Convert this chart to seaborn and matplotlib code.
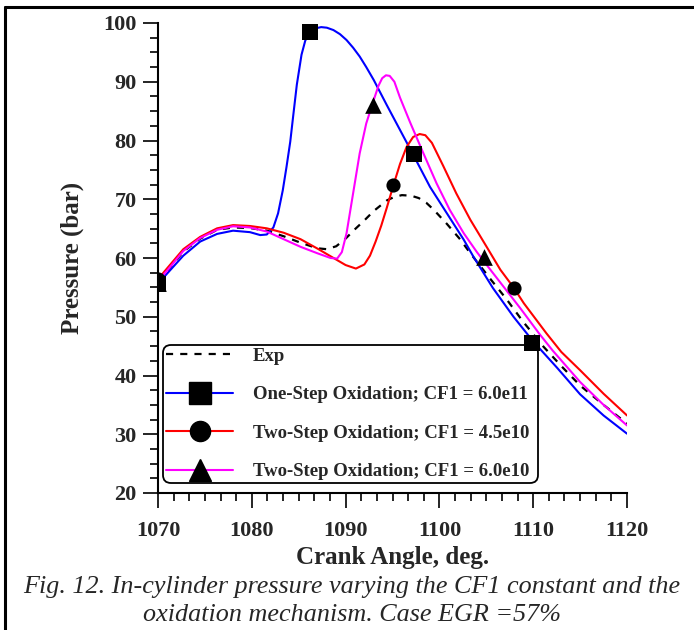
import numpy as np
import pandas as pd
import matplotlib
matplotlib.use("Agg")
import matplotlib.pyplot as plt
from matplotlib.lines import Line2D
from matplotlib.ticker import MultipleLocator
import seaborn as sns

# ---- pressure traces (crank angle in deg, pressure in bar) ----
exp_angle = [1070.0, 1071.0, 1072.7, 1074.5, 1076.3, 1078.0, 1079.8, 1081.6, 1083.4,
             1085.2, 1087.0, 1088.0, 1089.0, 1090.0, 1091.0, 1092.0, 1093.0, 1094.4,
             1095.2, 1096.0, 1097.0, 1097.8, 1098.6, 1099.4, 1100.8, 1102.2, 1103.3,
             1105.4, 1107.2, 1108.9, 1111.1, 1113.0, 1115.0, 1117.5, 1120.0]
exp_p = [56.0, 57.8, 61.1, 63.3, 64.8, 65.2, 65.1, 64.65, 63.7,
         62.6, 61.65, 61.5, 62.0, 63.3, 64.9, 66.4, 68.0, 69.8,
         70.4, 70.7, 70.6, 70.2, 69.4, 68.2, 65.8, 63.2, 60.8,
         56.5, 52.9, 49.2, 44.9, 41.6, 38.3, 35.0, 31.8]

one_step_angle = [1070.0, 1071.0, 1072.7, 1074.5, 1076.3, 1078.0, 1079.8, 1080.9, 1081.6,
                  1082.3, 1082.8, 1083.3, 1083.7, 1084.1, 1084.4, 1084.8, 1085.3, 1085.7,
                  1086.2, 1086.8, 1087.4, 1088.0, 1088.7, 1089.4, 1090.1, 1090.8, 1091.5,
                  1092.2, 1093.0, 1094.4, 1095.8, 1097.2, 1099.0, 1100.8, 1102.6, 1103.6,
                  1105.7, 1107.9, 1110.0, 1112.5, 1115.0, 1117.5, 1120.0]
one_step_p = [55.6, 57.4, 60.4, 62.8, 64.1, 64.65, 64.4, 63.9, 64.0,
              65.2, 67.6, 71.5, 75.5, 79.8, 84.0, 89.5, 94.6, 97.0,
              98.5, 99.1, 99.3, 99.2, 98.8, 98.1, 97.1, 95.8, 94.3,
              92.5, 90.3, 86.0, 81.8, 77.6, 72.1, 67.6, 63.1, 60.3,
              54.9, 50.0, 45.8, 41.4, 36.8, 33.2, 30.1]

two_step_a_angle = [1070.0, 1071.0, 1072.7, 1074.5, 1076.3, 1078.0, 1079.8, 1081.6, 1083.4,
                    1085.2, 1087.0, 1088.5, 1090.0, 1091.1, 1092.0, 1092.6, 1093.2, 1093.8,
                    1094.4, 1095.1, 1095.8, 1096.5, 1097.2, 1097.9, 1098.5, 1099.2, 1100.4,
                    1101.8, 1103.3, 1105.0, 1106.5, 1107.9, 1109.0, 1111.4, 1113.0, 1115.0,
                    1117.5, 1120.0]
two_step_a_p = [56.4, 58.3, 61.5, 63.6, 65.05, 65.6, 65.45, 65.05, 64.3,
                63.2, 61.6, 60.2, 58.8, 58.2, 58.9, 60.4, 62.8, 65.5,
                68.6, 72.4, 76.0, 78.9, 80.6, 81.1, 80.9, 79.6, 75.7,
                71.0, 66.5, 62.0, 58.0, 55.0, 52.3, 47.2, 44.0, 40.9,
                36.9, 33.2]

two_step_b_angle = [1070.0, 1071.0, 1072.7, 1074.5, 1076.3, 1078.0, 1079.8, 1081.6, 1083.4,
                    1085.2, 1087.0, 1088.4, 1089.1, 1089.6, 1090.1, 1090.8, 1091.5, 1092.2,
                    1093.0, 1093.5, 1093.9, 1094.3, 1094.7, 1095.2, 1095.8, 1096.9, 1098.3,
                    1099.7, 1101.1, 1102.6, 1104.0, 1105.0, 1106.8, 1108.6, 1110.7, 1112.1,
                    1115.0, 1117.5, 1120.0]
two_step_b_p = [56.1, 57.9, 61.2, 63.4, 64.8, 65.4, 65.2, 64.5, 63.2,
                61.9, 60.8, 60.0, 59.9, 61.0, 64.2, 71.0, 77.8, 82.9,
                86.9, 89.3, 90.6, 91.1, 91.0, 90.0, 87.3, 83.0, 77.8,
                72.7, 68.2, 64.2, 61.0, 58.9, 55.2, 51.5, 47.0, 44.2,
                38.9, 35.0, 31.5]

# symbol positions along each simulated trace
one_step_mark_angle = [1070.0, 1086.2, 1097.3, 1109.9]
one_step_mark_p = [55.5, 98.5, 77.7, 45.6]
two_step_a_mark_angle = [1070.0, 1095.1, 1107.9]
two_step_a_mark_p = [56.5, 72.4, 54.9]
two_step_b_mark_angle = [1070.0, 1092.9, 1104.8]
two_step_b_mark_p = [55.8, 86.0, 60.2]

labels = ["Exp",
          "One-Step Oxidation; CF1 = 6.0e11",
          "Two-Step Oxidation; CF1 = 4.5e10",
          "Two-Step Oxidation; CF1 = 6.0e10"]

x_ticks = [1070, 1080, 1090, 1100, 1110, 1120]
y_ticks = [20, 30, 40, 50, 60, 70, 80, 90, 100]

# ---- styling ----
sns.set_style("white")
plt.rcParams["font.family"] = ["Liberation Serif", "DejaVu Serif"]
plt.rcParams["font.weight"] = "bold"

W, H = 694, 630
fig = plt.figure(figsize=(W / 100, H / 100), dpi=100)
ax = fig.add_axes([158 / W, 1 - 493 / H, 469 / W, 470 / H])

traces = pd.concat([
    pd.DataFrame({"angle": exp_angle, "p": exp_p, "case": labels[0]}),
    pd.DataFrame({"angle": one_step_angle, "p": one_step_p, "case": labels[1]}),
    pd.DataFrame({"angle": two_step_a_angle, "p": two_step_a_p, "case": labels[2]}),
    pd.DataFrame({"angle": two_step_b_angle, "p": two_step_b_p, "case": labels[3]}),
], ignore_index=True)

colors = {labels[0]: "black", labels[1]: "#0000ff",
          labels[2]: "#ff0000", labels[3]: "#ff00ff"}
dash = (3.2, 3.2)

sns.lineplot(data=traces[traces["case"] != labels[0]], x="angle", y="p", hue="case",
             palette=colors, estimator=None, sort=False, linewidth=1.5,
             legend=False, ax=ax, zorder=3)
sns.lineplot(data=traces[traces["case"] == labels[0]], x="angle", y="p",
             color="black", estimator=None, sort=False, linewidth=1.6,
             legend=False, ax=ax, zorder=2)
ax.lines[-1].set_dashes(dash)
for ln in ax.lines:
    ln.set_solid_joinstyle("round")
    ln.set_dash_joinstyle("round")

sns.scatterplot(x=one_step_mark_angle, y=one_step_mark_p, marker="s", s=11 ** 2,
                color="black", linewidth=0, ax=ax, zorder=7, legend=False)
sns.scatterplot(x=two_step_a_mark_angle, y=two_step_a_mark_p, marker="o", s=10.2 ** 2,
                color="black", linewidth=0, ax=ax, zorder=7, legend=False)
sns.scatterplot(x=two_step_b_mark_angle, y=two_step_b_mark_p, marker="^", s=12 ** 2,
                color="black", linewidth=0, ax=ax, zorder=7, legend=False)

ax.set_xlim(1070, 1120)
ax.set_ylim(20, 100)
ax.set_xticks(x_ticks)
ax.set_yticks(y_ticks)
ax.xaxis.set_minor_locator(MultipleLocator(10 / 6))
ax.yaxis.set_minor_locator(MultipleLocator(2.5))
ax.tick_params(axis="both", which="major", direction="out", length=11, width=1.2,
               labelsize=16, color="black")
ax.tick_params(axis="both", which="minor", direction="out", length=5.5, width=1.2,
               color="black")
ax.tick_params(axis="x", which="major", pad=9)
ax.tick_params(axis="y", which="major", pad=4.5)
ax.tick_params(bottom=True, left=True, which="both")
for lbl in ax.get_xticklabels() + ax.get_yticklabels():
    lbl.set_fontweight("bold")

for side in ("top", "right"):
    ax.spines[side].set_visible(False)
for side in ("left", "bottom"):
    ax.spines[side].set_linewidth(1.5)
    ax.spines[side].set_color("black")

ax.set_xlabel("Crank Angle, deg.", fontsize=18, fontweight="bold")
ax.set_ylabel("Pressure (bar)", fontsize=18, fontweight="bold")
ax.xaxis.set_label_coords(0.5, -0.112)
ax.yaxis.set_label_coords(-0.158, 0.5)

handles = [
    Line2D([], [], color="black", linewidth=1.6, dashes=dash),
    Line2D([], [], color="#0000ff", linewidth=1.5, marker="s", markersize=15.5,
           markerfacecolor="black", markeredgecolor="black"),
    Line2D([], [], color="#ff0000", linewidth=1.5, marker="o", markersize=14.5,
           markerfacecolor="black", markeredgecolor="black"),
    Line2D([], [], color="#ff00ff", linewidth=1.5, marker="^", markersize=15.5,
           markerfacecolor="black", markeredgecolor="black"),
]
leg = ax.legend(handles, labels, loc="lower left",
                bbox_to_anchor=(5 / 469, 10 / 470, 375 / 469, 0.3), mode="expand",
                borderaxespad=0, prop={"family": "Liberation Serif", "weight": "bold",
                                       "size": 13.5},
                handlelength=3.6, handletextpad=1.05, labelspacing=1.14,
                borderpad=0.15, frameon=True, fancybox=True, framealpha=1,
                edgecolor="black", facecolor="white")
leg.get_frame().set_linewidth(1.3)
leg.get_frame().set_boxstyle("round,pad=0,rounding_size=0.45")
leg.set_zorder(5)

# caption
fig.text(352 / W, 1 - 587 / H,
         "Fig. 12. In-cylinder pressure varying the CF1 constant and the",
         ha="center", va="center", fontsize=18.8, style="italic", fontweight="normal")
fig.text(352 / W, 1 - 615 / H, "oxidation mechanism. Case EGR =57%",
         ha="center", va="center", fontsize=18.8, style="italic", fontweight="normal")

# page frame edges
fig.add_artist(Line2D([4.5 / W, 1.0], [1 - 6.5 / H, 1 - 6.5 / H],
                      transform=fig.transFigure, color="black", linewidth=2.2))
fig.add_artist(Line2D([4.5 / W, 4.5 / W], [0.0, 1 - 6.5 / H],
                      transform=fig.transFigure, color="black", linewidth=2.2))

fig.savefig("out.png", dpi=100)
